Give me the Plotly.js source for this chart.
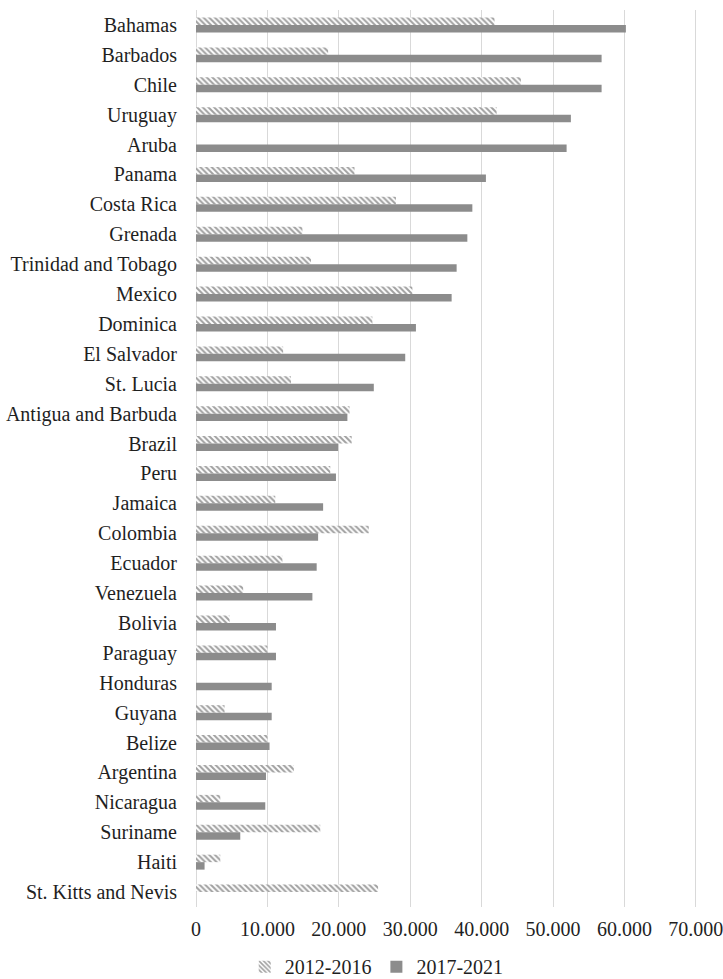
<!DOCTYPE html>
<html>
<head>
<meta charset="utf-8">
<script src="https://cdn.plot.ly/plotly-3.0.1.min.js"></script>
<style>html,body{margin:0;padding:0;background:#fff;}#chart{width:723px;height:979px;}</style>
</head>
<body>
<div id="chart"></div>
<script>
var countries = ["Bahamas","Barbados","Chile","Uruguay","Aruba","Panama","Costa Rica","Grenada","Trinidad and Tobago","Mexico","Dominica","El Salvador","St. Lucia","Antigua and Barbuda","Brazil","Peru","Jamaica","Colombia","Ecuador","Venezuela","Bolivia","Paraguay","Honduras","Guyana","Belize","Argentina","Nicaragua","Suriname","Haiti","St. Kitts and Nevis"];
var values2012_2016 = [41800,18500,45500,42100,null,22200,28000,14900,16100,30300,24700,12200,13300,21500,21800,18800,11100,24200,12100,6600,4700,10000,null,4000,10000,13700,3400,17400,3400,25500];
var values2017_2021 = [60200,56800,56800,52500,51900,40600,38700,38000,36500,35800,30800,29300,24900,21200,19900,19600,17800,17100,16900,16300,11200,11200,10600,10600,10300,9800,9700,6200,1200,null];
var seriesNames = ["2012-2016","2017-2021"];
var xTicks = [0,10000,20000,30000,40000,50000,60000,70000];

var traces = [
  {type:'bar', orientation:'h', name:seriesNames[0], y:countries, x:values2012_2016,
   marker:{color:'#ffffff', line:{width:0}, pattern:{shape:'\\', fgcolor:'#a0a0a0', bgcolor:'#ffffff', size:4, solidity:0.5}},
   hoverinfo:'x+y'},
  {type:'bar', orientation:'h', name:seriesNames[1], y:countries, x:values2017_2021,
   marker:{color:'#8c8c8c', line:{width:0}}, hoverinfo:'x+y'}
];

var layout = {
  width:723, height:979,
  margin:{l:196, r:25, t:10, b:72, autoexpand:false},
  paper_bgcolor:'#ffffff', plot_bgcolor:'#ffffff',
  separators:',.',
  font:{family:'"Liberation Serif", serif', size:20, color:'#1f1f1f'},
  barmode:'group', bargap:0.5, bargroupgap:0,
  showlegend:true,
  legend:{orientation:'h', x:0.36, xanchor:'center', y:-0.0665, yanchor:'middle', font:{size:20}, traceorder:'normal', itemwidth:30},
  xaxis:{range:[0,70300], tickvals:xTicks, tickformat:',d', showgrid:true, gridcolor:'#d9d9d9', gridwidth:1,
         zeroline:true, zerolinecolor:'#d9d9d9', zerolinewidth:1, showline:false, ticks:'', ticklabelstandoff:8,
         ticklabeloverflow:'allow', automargin:false, fixedrange:true},
  yaxis:{autorange:'reversed', type:'category', showgrid:false, zeroline:false, showline:false, ticks:'', ticklabelstandoff:18, automargin:false, fixedrange:true}
};

Plotly.newPlot('chart', traces, layout, {displayModeBar:false, staticPlot:true});
</script>
</body>
</html>
